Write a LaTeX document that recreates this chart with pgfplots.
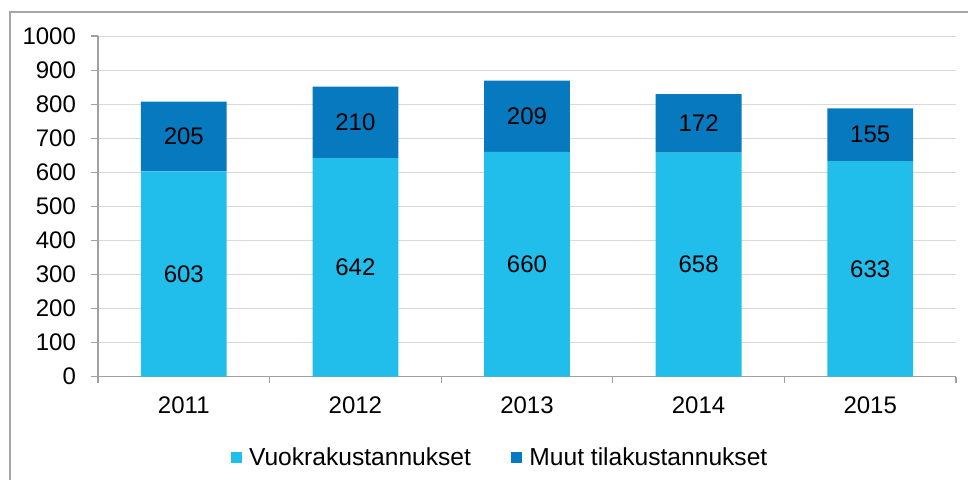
\documentclass[border=0pt]{standalone}
\usepackage{fontspec}
\setmainfont{Liberation Sans}
\usepackage{pgfplots}
\usepackage{pgfplotstable}
\pgfplotsset{compat=1.18}
\definecolor{lightb}{RGB}{33,189,235}
\definecolor{darkb}{RGB}{6,121,191}
\definecolor{axgray}{RGB}{160,160,160}
\definecolor{gridgray}{RGB}{217,217,217}
\definecolor{framegray}{RGB}{166,166,166}

\pgfplotstableread{
x year vuokra muut
0 2011 603 205
1 2012 642 210
2 2013 660 209
3 2014 658 172
4 2015 633 155
}\data

\pgfplotsset{
  common/.style={
    at={(49pt,51.15pt)}, anchor=south west,
    scale only axis, width=429pt, height=170.3pt,
    xmin=-0.5, xmax=4.5, ymin=0, ymax=1000,
  }
}

\begin{document}
\begin{tikzpicture}[x=1pt,y=1pt]
\useasboundingbox (0,0) rectangle (484,239.5);
\draw[framegray, line width=0.75pt] (5,-3) -- (5,233.5) -- (490,233.5);
\begin{axis}[
  common,
  ybar stacked, bar width=0.5,
  xtick={0,...,4}, xticklabels={2011,2012,2013,2014,2015},
  minor xtick={-0.5,0.5,...,4.5},
  ytick={0,100,...,1000},
  axis x line*=bottom, axis y line*=left,
  axis line style={axgray, line width=0.65pt},
  tick align=outside,
  major tick length=3.5pt, minor tick length=3pt,
  major x tick style={draw=none},
  minor x tick style={axgray, line width=0.65pt},
  major y tick style={axgray, line width=0.65pt},
  ymajorgrids, grid style={gridgray, line width=0.6pt},
  tick label style={font=\fontsize{12}{14}\selectfont, text=black},
  xticklabel style={yshift=-3pt},
  yticklabel style={xshift=-4pt},
  /pgf/number format/assume math mode=true,
  /pgf/number format/1000 sep={},
  legend style={at={(0.4697,-0.2386)}, anchor=center, draw=none, fill=none,
    legend columns=2, font=\fontsize{12.3}{14}\selectfont,
    /tikz/every odd column/.append style={column sep=1.5pt},
    /tikz/every even column/.append style={column sep=18pt}},
  legend image code/.code={\fill[#1] (-1.5pt,-2.6pt) rectangle (4.2pt,3.1pt);},
]
\addplot[fill=lightb, draw=none] table[x=x, y=vuokra]{\data};
\addplot[fill=darkb, draw=none] table[x=x, y=muut]{\data};
\legend{Vuokrakustannukset, Muut tilakustannukset}
\end{axis}
\begin{axis}[common, hide axis]
\addplot[draw=none, mark=none, nodes near coords, point meta=explicit symbolic,
  every node near coord/.append style={anchor=center, font=\fontsize{12}{14}\selectfont, text=black}]
  table[x=x, y expr=\thisrow{vuokra}/2, meta=vuokra]{\data};
\addplot[draw=none, mark=none, nodes near coords, point meta=explicit symbolic,
  every node near coord/.append style={anchor=center, font=\fontsize{12}{14}\selectfont, text=black}]
  table[x=x, y expr=\thisrow{vuokra}+\thisrow{muut}/2, meta=muut]{\data};
\end{axis}
\end{tikzpicture}
\end{document}
